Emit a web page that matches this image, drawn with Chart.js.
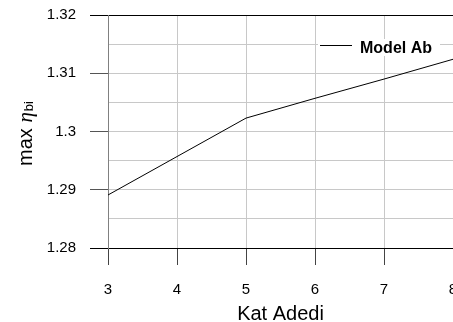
<!DOCTYPE html>
<html>
<head>
<meta charset="utf-8">
<script src="https://cdn.jsdelivr.net/npm/chart.js@4"></script>
<style>
  html, body { margin: 0; padding: 0; background: #fff; overflow: hidden; }
  #wrap { width: 453px; height: 322px; overflow: hidden; }
</style>
</head>
<body>
<div id="wrap"><canvas id="katChart" width="453" height="322"></canvas></div>
<script>
// values
const katCounts = [3, 4, 5, 6, 7, 8];
const maxEta = [1.2891, 1.2957, 1.3023, 1.3057, 1.3090, 1.3124];
const yMajor = [1.28, 1.29, 1.3, 1.31, 1.32];
const seriesName = 'Model Ab';
const xTitle = 'Kat Adedi';

const FONT = '"Liberation Sans", Arial, sans-serif';

function isMajor(v) {
  return yMajor.some(function(m) { return Math.abs(m - v) < 1e-6; });
}
function isEdge(v) {
  return Math.abs(v - 1.28) < 1e-6 || Math.abs(v - 1.32) < 1e-6;
}

// axis titles + legend drawn by hand so they sit where the reference has them
const decorPlugin = {
  id: 'decor',
  afterDraw: function(chart) {
    const ctx = chart.ctx;
    const area = chart.chartArea;
    ctx.save();
    ctx.fillStyle = '#000';

    // x title
    ctx.font = '20px ' + FONT;
    ctx.textAlign = 'center';
    ctx.textBaseline = 'alphabetic';
    ctx.fillText(xTitle, (area.left + area.right) / 2, 320);

    // y title: max eta_bi, rotated
    ctx.textAlign = 'left';
    const f1 = '20px ' + FONT;
    const f2 = 'italic 21px "Liberation Serif", "DejaVu Serif", serif';
    const f3 = '13px ' + FONT;
    ctx.font = f1; const w1 = ctx.measureText('max ').width;
    ctx.font = f2; const w2 = ctx.measureText('\u03B7').width;
    ctx.font = f3; const w3 = ctx.measureText('bi').width;
    const total = w1 + w2 + w3 + 1;
    ctx.translate(32, 133.5);
    ctx.rotate(-Math.PI / 2);
    let x0 = -total / 2;
    ctx.font = f1; ctx.fillText('max ', x0, 0);
    ctx.font = f2; ctx.fillText('\u03B7', x0 + w1, 0);
    ctx.font = f3; ctx.fillText('bi', x0 + w1 + w2 + 1, 1);
    ctx.restore();

    // legend box
    ctx.save();
    ctx.fillStyle = '#fff';
    ctx.fillRect(318, 39, 122, 17);
    ctx.strokeStyle = '#000';
    ctx.lineWidth = 1;
    ctx.beginPath();
    ctx.moveTo(320, 45.5);
    ctx.lineTo(352, 45.5);
    ctx.stroke();
    ctx.fillStyle = '#000';
    ctx.font = 'bold 16px ' + FONT;
    ctx.textAlign = 'left';
    ctx.textBaseline = 'alphabetic';
    ctx.fillText(seriesName, 360, 53);
    ctx.restore();
  }
};

const points = katCounts.map(function(k, i) { return { x: k, y: maxEta[i] }; });

const katChart = new Chart(document.getElementById('katChart'), {
  type: 'line',
  data: {
    datasets: [{
      label: seriesName,
      data: points,
      borderColor: '#000',
      borderWidth: 1,
      pointRadius: 0,
      tension: 0,
      fill: false
    }]
  },
  options: {
    responsive: false,
    animation: false,
    layout: { padding: { top: 15, right: 0, left: 0, bottom: 0 } },
    plugins: {
      legend: { display: false },
      tooltip: { enabled: false }
    },
    scales: {
      x: {
        type: 'linear',
        min: 3,
        max: 8,
        afterFit: function(scale) {
          scale.height = 74;
          scale.paddingRight = 0;   // let the "8" run off the edge like the original
        },
        ticks: {
          stepSize: 1,
          padding: 16,
          color: '#000',
          font: { family: FONT, size: 15 }
        },
        grid: {
          color: '#c8c8c8',
          tickColor: '#444',
          tickLength: 17
        },
        border: { color: '#000' }
      },
      y: {
        min: 1.28,
        max: 1.32,
        afterFit: function(scale) {
          scale.width = 108;
          scale.paddingTop = 0;
          scale.paddingBottom = 0;
        },
        ticks: {
          stepSize: 0.005,
          padding: 14,
          color: '#000',
          font: { family: FONT, size: 15 },
          callback: function(v) {
            return isMajor(v) ? String(Number(v.toFixed(2))) : '';
          }
        },
        grid: {
          color: function(c) { return isEdge(c.tick.value) ? '#000' : '#c8c8c8'; },
          tickColor: function(c) {
            if (!isMajor(c.tick.value)) return 'rgba(0,0,0,0)';
            return isEdge(c.tick.value) ? '#000' : '#555';
          },
          tickLength: 18
        },
        border: { color: '#808080' }
      }
    }
  },
  plugins: [decorPlugin]
});
</script>
</body>
</html>
